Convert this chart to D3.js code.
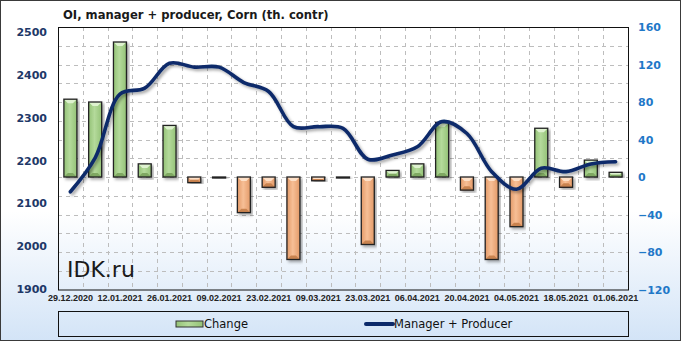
<!DOCTYPE html>
<html>
<head>
<meta charset="utf-8">
<script src="https://cdn.jsdelivr.net/npm/d3@7"></script>
<style>
  body { margin: 0; background: #fff; }
</style>
</head>
<body>
<div id="chart"></div>
<script>
// weekly report dates
const dates = ['29.12.2020', '05.01.2021', '12.01.2021', '19.01.2021', '26.01.2021', '02.02.2021',
  '09.02.2021', '16.02.2021', '23.02.2021', '02.03.2021', '09.03.2021', '16.03.2021',
  '23.03.2021', '30.03.2021', '06.04.2021', '13.04.2021', '20.04.2021', '27.04.2021',
  '04.05.2021', '11.05.2021', '18.05.2021', '25.05.2021', '01.06.2021']

// open interest, manager + producer (th. contracts)
const oi = [2127, 2206, 2355, 2369, 2427, 2418, 2418, 2382, 2361, 2279, 2279, 2275,
  2203, 2213, 2232, 2291, 2263, 2174, 2133, 2182, 2174, 2192, 2197]

// week-over-week change
const change = [83, 80, 144, 14, 55, -6, -1, -38, -11, -88, -4, -1,
  -72, 7, 14, 58, -14, -88, -53, 52, -11, 18, 5]

const leftTicks = [1900, 2000, 2100, 2200, 2300, 2400, 2500]
const rightTicks = [-120, -80, -40, 0, 40, 80, 120, 160]

const width = 681,
      height = 341,
      plotL = 58, plotR = 628, plotT = 27, plotB = 289.5

const svg = d3.select('#chart').append('svg')
  .attr('width', width)
  .attr('height', height)
  .attr('font-family', '"DejaVu Sans", sans-serif')

const defs = svg.append('defs')

let bg = defs.append('linearGradient').attr('id', 'bg')
  .attr('x1', 0).attr('y1', 0).attr('x2', 0).attr('y2', 1)
bg.append('stop').attr('offset', '0').attr('stop-color', '#ffffff')
bg.append('stop').attr('offset', '0.62').attr('stop-color', '#ffffff')
bg.append('stop').attr('offset', '1').attr('stop-color', '#d3e4f7')

// horizontal shading for the bars
let barGrad = (id, edge, mid) => {
  let g = defs.append('linearGradient').attr('id', id)
    .attr('x1', 0).attr('y1', 0).attr('x2', 1).attr('y2', 0)
  g.append('stop').attr('offset', '0').attr('stop-color', edge)
  g.append('stop').attr('offset', '0.45').attr('stop-color', mid)
  g.append('stop').attr('offset', '1').attr('stop-color', edge)
}
barGrad('gUp', '#94c277', '#b4da9b')
barGrad('gDown', '#e39a68', '#f7bf96')

let shadow = defs.append('filter').attr('id', 'shadow')
  .attr('x', '-20%').attr('y', '-20%').attr('width', '140%').attr('height', '140%')
shadow.append('feDropShadow')
  .attr('dx', 2).attr('dy', 2).attr('stdDeviation', 1.4)
  .attr('flood-color', '#000').attr('flood-opacity', 0.35)

svg.append('rect')
  .attr('x', 0.5).attr('y', 0.5)
  .attr('width', width - 1).attr('height', height - 1)
  .attr('fill', 'url(#bg)')
  .attr('stroke', '#3a3a3a')

// scales
let x = d3.scaleBand()
  .domain(dates)
  .range([plotL, plotR])

let yL = d3.scaleLinear()
  .domain([1900, 2500])
  .range([289, 32])

let yR = d3.scaleLinear()
  .domain([-120, 160])
  .range([plotB, plotT])

// grid
let grid = svg.append('g')
  .attr('stroke', '#bdbdbd')
  .attr('stroke-dasharray', '4,4')

grid.selectAll('line.h')
  .data(d3.range(-100, 160, 20))
  .enter()
  .append('line')
  .attr('x1', plotL).attr('x2', plotR)
  .attr('y1', d => Math.round(yR(d)) + 0.5)
  .attr('y2', d => Math.round(yR(d)) + 0.5)

grid.selectAll('line.v')
  .data(dates.slice(1))
  .enter()
  .append('line')
  .attr('x1', d => Math.round(x(d)) + 0.5)
  .attr('x2', d => Math.round(x(d)) + 0.5)
  .attr('y1', plotT).attr('y2', plotB)

// bars
const barW = 13,
      bev = 4

let bars = svg.append('g')
  .selectAll('g')
  .data(change.map((v, i) => ({ date: dates[i], v: v })))
  .enter()
  .append('g')
  .attr('filter', 'url(#shadow)')

bars.each(function(d) {
  let g = d3.select(this)
  let x0 = x(d.date) + x.bandwidth() / 2 - barW / 2
  let y0 = Math.min(yR(d.v), yR(0))
  let h = Math.max(Math.abs(yR(d.v) - yR(0)), 1)
  let up = d.v >= 0
  g.append('rect')
    .attr('x', x0).attr('y', y0)
    .attr('width', barW).attr('height', h)
    .attr('fill', up ? 'url(#gUp)' : 'url(#gDown)')
  let b = Math.min(bev, h / 2)
  if (h > 3) {
    // bevel: light top, darker bottom
    g.append('polygon')
      .attr('points', [[x0, y0], [x0 + barW, y0], [x0 + barW - b, y0 + b], [x0 + b, y0 + b]].join(' '))
      .attr('fill', up ? '#def2cf' : '#fde0c8')
    g.append('polygon')
      .attr('points', [[x0, y0 + h], [x0 + barW, y0 + h], [x0 + barW - b, y0 + h - b], [x0 + b, y0 + h - b]].join(' '))
      .attr('fill', up ? '#7fa862' : '#c98350')
  }
  g.append('rect')
    .attr('x', x0).attr('y', y0)
    .attr('width', barW).attr('height', h)
    .attr('fill', 'none')
    .attr('stroke', '#222')
    .attr('stroke-width', 1.3)
})

// OI line
let line = d3.line()
  .x((d, i) => x(dates[i]) + x.bandwidth() / 2)
  .y(d => yL(d))
  .curve(d3.curveCatmullRom.alpha(0.5))

svg.append('path')
  .datum(oi)
  .attr('d', line)
  .attr('fill', 'none')
  .attr('stroke', '#0c2a6a')
  .attr('stroke-width', 3.6)
  .attr('stroke-linecap', 'round')
  .attr('filter', 'url(#shadow)')

// plot frame
svg.append('rect')
  .attr('x', plotL + 0.5).attr('y', plotT + 0.5)
  .attr('width', plotR - plotL).attr('height', plotB - plotT)
  .attr('fill', 'none')
  .attr('stroke', '#111')

// axes
svg.append('g')
  .attr('transform', 'translate(52, 0)')
  .attr('class', 'axis')
  .call(d3.axisLeft(yL).tickValues(leftTicks).tickFormat(d3.format('d')).tickSize(0).tickPadding(5))
  .call(g => g.select('.domain').remove())
  .selectAll('text')
  .attr('font-family', '"DejaVu Sans", sans-serif')
  .attr('font-size', 11)
  .attr('font-weight', 'bold')
  .attr('fill', '#1e3868')

svg.append('g')
  .attr('transform', 'translate(634, 0)')
  .attr('class', 'axis')
  .call(d3.axisRight(yR).tickValues(rightTicks).tickFormat(d3.format('d')).tickSize(0).tickPadding(4))
  .call(g => g.select('.domain').remove())
  .selectAll('text')
  .attr('font-family', '"DejaVu Sans", sans-serif')
  .attr('font-size', 11)
  .attr('font-weight', 'bold')
  .attr('fill', '#1f78c8')

svg.append('g')
  .attr('transform', `translate(0, ${ plotB + 3 })`)
  .attr('class', 'axis')
  .call(d3.axisBottom(x).tickValues(dates.filter((d, i) => i % 2 === 0)).tickSize(0).tickPadding(2))
  .call(g => g.select('.domain').remove())
  .selectAll('text')
  .attr('font-family', '"Liberation Sans", sans-serif')
  .attr('font-size', 9)
  .attr('font-weight', 'bold')
  .attr('fill', '#222')

// title and watermark
svg.append('text')
  .attr('x', 63).attr('y', 19)
  .attr('font-size', 11.6)
  .attr('font-weight', 'bold')
  .attr('fill', '#1a1a1a')
  .text('OI,  manager + producer, Corn (th. contr)')

svg.append('text')
  .attr('x', 67).attr('y', 277)
  .attr('font-size', 22)
  .attr('fill', '#1a1a1a')
  .text('IDK.ru')

// legend
let legend = svg.append('g')

legend.append('rect')
  .attr('x', plotL + 0.5).attr('y', 311.5)
  .attr('width', plotR - plotL).attr('height', 25)
  .attr('fill', 'none')
  .attr('stroke', '#111')

legend.append('rect')
  .attr('x', 176).attr('y', 321)
  .attr('width', 27).attr('height', 6)
  .attr('fill', 'url(#gUp)')
  .attr('stroke', '#333')

legend.append('text')
  .attr('x', 204).attr('y', 328)
  .attr('font-size', 11.5)
  .attr('fill', '#111')
  .text('Change')

legend.append('line')
  .attr('x1', 366).attr('x2', 393)
  .attr('y1', 324).attr('y2', 324)
  .attr('stroke', '#0c2a6a')
  .attr('stroke-width', 4)
  .attr('stroke-linecap', 'round')

legend.append('text')
  .attr('x', 394).attr('y', 328)
  .attr('font-size', 11.5)
  .attr('fill', '#111')
  .text('Manager + Producer')
</script>
</body>
</html>
